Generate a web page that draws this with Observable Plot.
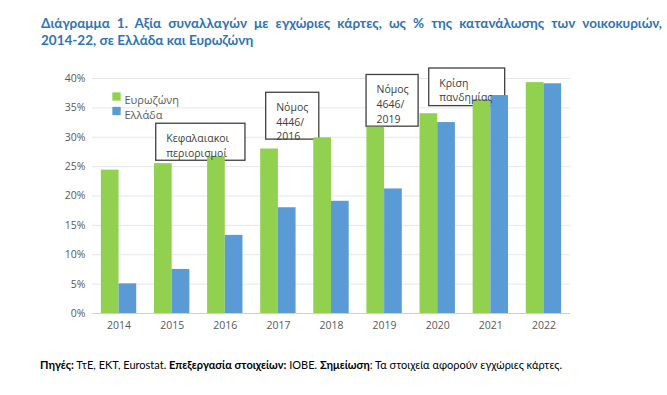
<!DOCTYPE html>
<html><head><meta charset="utf-8">
<script src="https://cdn.jsdelivr.net/npm/d3@7"></script>
<script src="https://cdn.jsdelivr.net/npm/@observablehq/plot@0.6"></script>
<style>
body{margin:0;background:#fff;width:667px;height:395px;overflow:hidden;position:relative;}
#title{position:absolute;left:41px;top:15px;width:621px;font-family:Lato,"Open Sans",sans-serif;font-weight:bold;font-size:13.5px;line-height:17px;color:#2f73b8;}
#title .l1{text-align:justify;text-align-last:justify;white-space:nowrap;}
#chart{position:absolute;left:0;top:55px;}
#caption{position:absolute;left:40px;top:358px;font-family:Lato,"Open Sans",sans-serif;font-size:11px;line-height:14px;color:#000;white-space:nowrap;}
</style></head><body>
<div id="title"><div class="l1">Διάγραμμα 1. Αξία συναλλαγών με εγχώριες κάρτες, ως % της κατανάλωσης των νοικοκυριών,</div><div>2014-22, σε Ελλάδα και Ευρωζώνη</div></div>
<div id="chart"></div>
<div id="caption"><b>Πηγές:</b> ΤτΕ, ΕΚΤ, Eurostat. <b>Επεξεργασία στοιχείων:</b> ΙΟΒΕ. <b>Σημείωση</b>: Τα στοιχεία αφορούν εγχώριες κάρτες.</div>
<script>
const years = [2014, 2015, 2016, 2017, 2018, 2019, 2020, 2021, 2022];
const eurozone = [0.244, 0.255, 0.267, 0.280, 0.299, 0.317, 0.340, 0.364, 0.393];
const greece = [0.0505, 0.075, 0.133, 0.180, 0.191, 0.212, 0.325, 0.371, 0.391];
const seriesNames = ["Ευρωζώνη", "Ελλάδα"];
const seriesColors = ["#92D050", "#5B9BD5"];
const yTicks = [0, 0.05, 0.10, 0.15, 0.20, 0.25, 0.30, 0.35, 0.40];
const annLabels = ["Κεφαλαιακοι\nπεριορισμοί", "Νόμος\n4446/\n2016", "Νόμος\n4646/\n2019", "Κρίση\nπανδημίας"];
const annX1 = [2014.70, 2016.77, 2018.66, 2019.84];
const annX2 = [2016.38, 2017.77, 2019.64, 2021.27];
const annY1 = [0.260, 0.296, 0.318, 0.353];
const annY2 = [0.323, 0.3757, 0.406, 0.417];

const barHalf = 0.333;
const bars = years.flatMap((yr, i) => [
  {year: yr, series: seriesNames[0], value: eurozone[i], x1: yr - barHalf, x2: yr},
  {year: yr, series: seriesNames[1], value: greece[i], x1: yr, x2: yr + barHalf}
]);
const anns = annLabels.map((t, i) => ({label: t, x1: annX1[i], x2: annX2[i], y1: annY1[i], y2: annY2[i]}));

const legendMarks = seriesNames.flatMap((name, i) => [
  Plot.dot([name], {frameAnchor: "top-left", dx: 24, dy: 18 + i * 14.5, symbol: "square", r: 4.7, fill: seriesColors[i]}),
  Plot.text([name], {frameAnchor: "top-left", dx: 32, dy: 18 + i * 14.5, text: d => d, textAnchor: "start", fontSize: 11, fill: "#595959"})
]);

const chart = Plot.plot({
  width: 667,
  height: 288,
  marginLeft: 92,
  marginRight: 97,
  marginTop: 23,
  marginBottom: 30,
  style: {fontFamily: "'Open Sans', sans-serif", fontSize: "10.5px", color: "#595959", background: "white"},
  x: {domain: [2013.5, 2022.5], ticks: years, tickFormat: "d", tickSize: 0, tickPadding: 8, label: null},
  y: {domain: [0, 0.4], ticks: yTicks, tickFormat: d3.format(".0%"), tickSize: 0, tickPadding: 7, label: null},
  color: {domain: seriesNames, range: seriesColors},
  marks: [
    Plot.ruleY(yTicks.slice(1), {stroke: "#e6e6e6", strokeWidth: 1}),
    Plot.ruleY([0], {stroke: "#cfcfcf", strokeWidth: 1}),
    Plot.rect(anns, {x1: "x1", x2: "x2", y1: "y1", y2: "y2", fill: "white", stroke: "#404040", strokeWidth: 1.3}),
    Plot.rect(bars, {x1: "x1", x2: "x2", y1: 0, y2: "value", fill: "series"}),
    Plot.text(anns, {x: "x1", y: "y2", text: "label", textAnchor: "start", lineAnchor: "top", dx: 10, dy: 7.5, lineHeight: 1.41, fontSize: 10.5, fill: "#404040"}),
    ...legendMarks
  ]
});
document.getElementById("chart").appendChild(chart);
</script>
</body></html>
